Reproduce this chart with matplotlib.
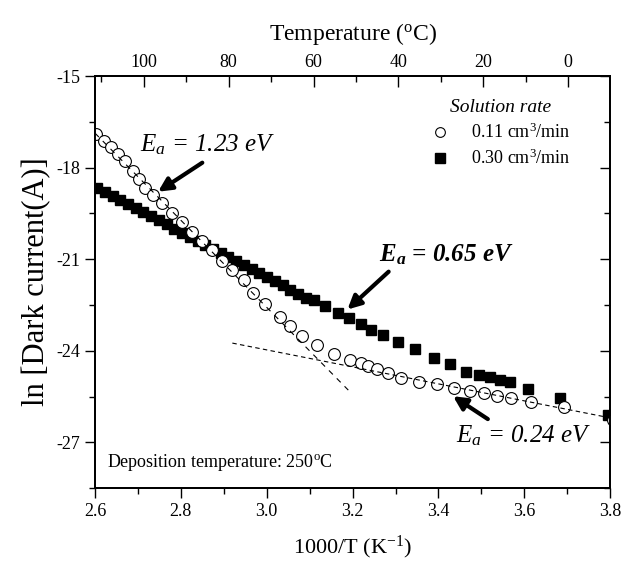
import matplotlib
matplotlib.use("Agg")
import matplotlib.pyplot as plt
from matplotlib.ticker import MultipleLocator
from matplotlib.lines import Line2D

plt.rcParams['font.family'] = ['Liberation Serif', 'DejaVu Serif']
plt.rcParams['axes.unicode_minus'] = False
plt.rcParams['mathtext.fontset'] = 'custom'
plt.rcParams['mathtext.rm'] = 'Liberation Serif'
plt.rcParams['mathtext.it'] = 'Liberation Serif:italic'
plt.rcParams['mathtext.bf'] = 'Liberation Serif:bold'
plt.rcParams['mathtext.bfit'] = 'Liberation Serif:italic:bold'

# 0.11 cm3/min (open circles)
x_low = [2.602, 2.621, 2.637, 2.654, 2.670, 2.689, 2.703, 2.717, 2.735, 2.756, 2.780,
         2.803, 2.826, 2.850, 2.873, 2.897, 2.920, 2.946, 2.969, 2.997, 3.032,
         3.055, 3.083, 3.118, 3.156, 3.193, 3.219, 3.235, 3.256, 3.282, 3.312,
         3.354, 3.396, 3.436, 3.473, 3.506, 3.536, 3.569, 3.616, 3.693, 3.807]
y_low = [-16.90, -17.12, -17.32, -17.55, -17.78, -18.10, -18.38, -18.66, -18.89, -19.15, -19.48,
         -19.77, -20.10, -20.42, -20.69, -21.05, -21.34, -21.67, -22.12, -22.48, -22.91,
         -23.20, -23.53, -23.82, -24.12, -24.31, -24.41, -24.51, -24.61, -24.74, -24.90,
         -25.03, -25.10, -25.23, -25.33, -25.39, -25.49, -25.56, -25.69, -25.85, -26.27]

# 0.30 cm3/min (filled squares)
x_high = [2.605, 2.623, 2.641, 2.659, 2.677, 2.695, 2.713, 2.731, 2.749, 2.767,
          2.785, 2.803, 2.821, 2.839, 2.857, 2.875, 2.893, 2.911, 2.929, 2.947,
          2.965, 2.983, 3.001, 3.019, 3.037, 3.055, 3.073, 3.091, 3.109, 3.135,
          3.165, 3.191, 3.219, 3.244, 3.272, 3.305, 3.345, 3.389, 3.427, 3.464,
          3.494, 3.520, 3.543, 3.567, 3.609, 3.683, 3.795]
y_high = [-18.66, -18.79, -18.93, -19.06, -19.19, -19.33, -19.46, -19.60, -19.73, -19.86,
          -20.00, -20.13, -20.26, -20.40, -20.53, -20.66, -20.80, -20.93, -21.06, -21.20,
          -21.33, -21.46, -21.60, -21.73, -21.86, -22.00, -22.13, -22.26, -22.35, -22.55,
          -22.75, -22.94, -23.14, -23.33, -23.50, -23.73, -23.95, -24.25, -24.44, -24.71,
          -24.80, -24.87, -24.97, -25.03, -25.26, -25.56, -26.11]

# fit lines (dashed)
fit1_x = [2.60, 3.19]
fit1_y = [-16.87, -25.29]
fit2_x = [2.92, 3.80]
fit2_y = [-23.75, -26.20]

fig = plt.figure(figsize=(6.33, 5.61), dpi=100)
ax = fig.add_axes([0.150, 0.130, 0.814, 0.7345])

ax.plot(x_high, y_high, 's', color='k', markersize=7.8, zorder=3)
ax.plot(x_low, y_low, 'o', mfc='white', mec='k', mew=0.8, markersize=8.5, zorder=4)
ax.plot(fit1_x, fit1_y, color='k', lw=0.8, ls=(0, (5, 5)), zorder=5)
ax.plot(fit2_x, fit2_y, color='k', lw=0.8, ls=(0, (4, 3)), zorder=5)

ax.set_xlim(2.6, 3.8)
ax.set_ylim(-28.5, -15)
ax.set_xticks([2.6, 2.8, 3.0, 3.2, 3.4, 3.6, 3.8])
ax.set_xticklabels(['2.6', '2.8', '3.0', '3.2', '3.4', '3.6', '3.8'])
ax.xaxis.set_minor_locator(MultipleLocator(0.1))
ax.yaxis.set_major_locator(MultipleLocator(3))
ax.yaxis.set_minor_locator(MultipleLocator(1.5))
ax.tick_params(axis='both', which='major', direction='out', length=7, width=1,
               labelsize=13)
ax.tick_params(axis='both', which='minor', direction='out', length=4, width=1)

ax.set_xlabel(r'1000/T (K$^{\mathregular{-1}}$)', fontsize=16, labelpad=10)
ax.set_ylabel('ln [Dark current(A)]', fontsize=22, labelpad=4)

# right side ticks point inward, no labels
rax = ax.twinx()
rax.set_ylim(-28.5, -15)
rax.yaxis.set_major_locator(MultipleLocator(3))
rax.yaxis.set_minor_locator(MultipleLocator(1.5))
rax.tick_params(axis='y', which='major', direction='in', length=7, width=1, labelright=False)
rax.tick_params(axis='y', which='minor', direction='in', length=4, width=1)

top = ax.twiny()
top.set_xlim(111.5, -9.9)
top.xaxis.set_major_locator(MultipleLocator(20))
top.xaxis.set_minor_locator(MultipleLocator(10))
top.tick_params(axis='x', which='major', direction='in', length=8, width=1, labelsize=13)
top.tick_params(axis='x', which='minor', direction='in', length=4, width=1)
top.set_xlabel(r'Temperature ($^{\mathregular{o}}$C)', fontsize=17, labelpad=10)

for a in (ax, rax, top):
    for s in a.spines.values():
        s.set_linewidth(1.2)

# annotations
arrow = dict(arrowstyle='-|>', color='k', lw=3, mutation_scale=20, shrinkA=0, shrinkB=0)
ax.annotate('', xy=(2.747, -18.79), xytext=(2.850, -17.84), arrowprops=arrow)
ax.annotate('', xy=(3.188, -22.65), xytext=(3.284, -21.41), arrowprops=arrow)
ax.annotate('', xy=(3.434, -25.49), xytext=(3.515, -26.24), arrowprops=arrow)

ax.text(2.705, -17.48, r'$\mathit{E_a}$ = 1.23 eV', fontsize=18, style='italic',
        va='baseline', ha='left')
ax.text(3.261, -21.08, r'$\mathbfit{E_a}$ = 0.65 eV', fontsize=18, style='italic',
        weight='bold', va='baseline', ha='left')
ax.text(3.441, -27.0, r'$\mathit{E_a}$ = 0.24 eV', fontsize=18, style='italic',
        va='baseline', ha='left')
ax.text(2.628, -27.65, r'Deposition temperature: 250$^{\mathregular{o}}$C', fontsize=13,
        va='center', ha='left')

handles = [Line2D([], [], ls='', marker='o', mfc='white', mec='k', mew=0.8, markersize=7),
           Line2D([], [], ls='', marker='s', color='k', markersize=6.5)]
leg = ax.legend(handles, [r'0.11 cm$^{\mathregular{3}}$/min', r'0.30 cm$^{\mathregular{3}}$/min'],
                loc='upper right', bbox_to_anchor=(0.94, 0.965), frameon=False,
                fontsize=13, title='Solution rate', handlelength=1.0,
                handletextpad=1.2, labelspacing=0.35, borderpad=0)
leg.get_title().set_fontsize(14)
leg.get_title().set_style('italic')

fig.savefig('out.png', dpi=100)
